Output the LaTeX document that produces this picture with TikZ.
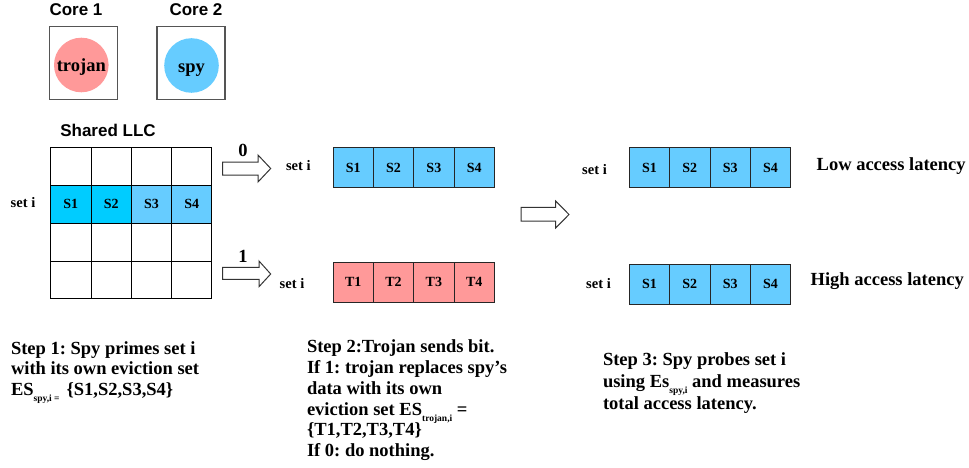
\documentclass[tikz,border=0pt]{standalone}
\usepackage{fontspec}
\setmainfont{Liberation Serif}
\newfontfamily\sansfam{Liberation Sans}
\definecolor{cyanA}{HTML}{00CCFF}
\definecolor{blueB}{HTML}{66CCFF}
\definecolor{redA}{HTML}{FF9999}
\definecolor{boxgray}{HTML}{555555}
\newcommand{\fsz}[1]{\fontsize{#1}{#1}\selectfont}
\newcommand{\lowsub}[1]{\raisebox{-6.5pt}{\fsz{9.5}#1}}
\frenchspacing
\begin{document}
\frenchspacing
\begin{tikzpicture}[x=1pt,y=-1pt,
  every node/.style={inner sep=0pt, outer sep=0pt},
  corebox/.style={draw=boxgray, line width=1.3pt, minimum width=68pt, minimum height=73pt, anchor=north west},
  proc/.style={circle, minimum size=54.6pt, text height=14.5pt, text depth=1.1pt, font=\fsz{18.5}\bfseries},
  hdr/.style={font=\sansfam\fsz{17}\bfseries, anchor=base},
  gcell/.style={draw, line width=1pt, minimum width=40.3pt, minimum height=37.9pt, anchor=north west, font=\fsz{14}\bfseries},
  rcell/.style={draw=black!85, line width=1pt, minimum width=40.35pt, minimum height=40pt, anchor=north west, font=\fsz{14}\bfseries},
  setlbl/.style={font=\fsz{14.5}\bfseries, anchor=base},
  bitlbl/.style={font=\fsz{18.5}\bfseries, anchor=base},
  lat/.style={font=\fsz{18.5}\bfseries, anchor=base west},
  steptxt/.style={font=\frenchspacing\fsz{18.5}\bfseries, anchor=base west},
  blockarr/.style={draw=black!80, line width=1pt, fill=white, line join=miter}
]
\useasboundingbox (0,0) rectangle (969,468);

% cores
\node[hdr] (c1lbl) at (76,16) {Core 1};
\node[hdr] (c2lbl) at (196,16) {Core 2};
\node[corebox] (core1) at (49.5,26.5) {};
\node[corebox] (core2) at (157,26.5) {};
\node[proc, fill=redA] (trojan) at (81.3,65) {trojan};
\node[proc, fill=blueB] (spy) at (191.5,65.5) {spy};

% shared LLC
\node[hdr] (llc) at (108,136.5) {Shared LLC};
\foreach \r in {0,2,3}{
  \foreach \c in {0,1,2,3}{
    \node[gcell] (g\r\c) at ({50.7+40.3*\c},{147.3+37.9*\r}) {};
  }
}
\node[gcell, fill=cyanA] (g10) at (50.7,185.2) {S1};
\node[gcell, fill=cyanA] (g11) at (91.0,185.2) {S2};
\node[gcell, fill=blueB] (g12) at (131.3,185.2) {S3};
\node[gcell, fill=blueB] (g13) at (171.6,185.2) {S4};
\node[setlbl] (setL) at (23,207) {set i};

% arrows step 2
\draw[blockarr] (222.5,162) -- (258,162) -- (258,155) -- (270.7,168.5) -- (258,182) -- (258,175) -- (222.5,175) -- cycle;
\node[bitlbl] (bit0) at (243,157) {0};
\draw[blockarr] (222.7,267.3) -- (259,267.3) -- (259,261) -- (270.7,274) -- (259,286.7) -- (259,279.3) -- (222.7,279.3) -- cycle;
\node[bitlbl] (bit1) at (243,262.5) {1};

\node[setlbl] (set0) at (298.3,170.7) {set i};
\node[rcell, fill=blueB] (m0a) at (333,147.7) {S1};
\node[rcell, fill=blueB] (m0b) at (373.35,147.7) {S2};
\node[rcell, fill=blueB] (m0c) at (413.7,147.7) {S3};
\node[rcell, fill=blueB] (m0d) at (454.05,147.7) {S4};

\node[setlbl] (set1) at (292,288.3) {set i};
\node[rcell, fill=redA] (m1a) at (333,262) {T1};
\node[rcell, fill=redA] (m1b) at (373.35,262) {T2};
\node[rcell, fill=redA] (m1c) at (413.7,262) {T3};
\node[rcell, fill=redA] (m1d) at (454.05,262) {T4};

% arrow step 3
\draw[blockarr] (521,207.3) -- (555.7,207.3) -- (555.7,201) -- (569,214.5) -- (555.7,228) -- (555.7,221) -- (521,221) -- cycle;

\node[setlbl] (setR0) at (594.5,174.3) {set i};
\node[rcell, fill=blueB] (r0a) at (629.3,147.7) {S1};
\node[rcell, fill=blueB] (r0b) at (669.65,147.7) {S2};
\node[rcell, fill=blueB] (r0c) at (710,147.7) {S3};
\node[rcell, fill=blueB] (r0d) at (750.35,147.7) {S4};
\node[lat] (low) at (816.7,170) {Low access latency};

\node[setlbl] (setR1) at (598.5,288.3) {set i};
\node[rcell, fill=blueB] (r1a) at (629.3,264) {S1};
\node[rcell, fill=blueB] (r1b) at (669.65,264) {S2};
\node[rcell, fill=blueB] (r1c) at (710,264) {S3};
\node[rcell, fill=blueB] (r1d) at (750.35,264) {S4};
\node[lat] (high) at (810.7,285) {High access latency};

% step texts
\node[steptxt] (s1a) at (11,354) {Step 1: Spy primes set i};
\node[steptxt] (s1b) at (11,374.5) {with its own eviction set};
\node[steptxt] (s1c) at (11,395) {ES\lowsub{spy,i =}\hspace{7pt}\{S1,S2,S3,S4\}};

\node[steptxt] (s2a) at (307,352.7) {Step 2:Trojan sends bit.};
\node[steptxt] (s2b) at (307,373.5) {If 1: trojan replaces spy’s};
\node[steptxt] (s2c) at (307,394.3) {data with its own};
\node[steptxt] (s2d) at (307,415) {eviction set ES\lowsub{trojan,i} =};
\node[steptxt] (s2e) at (307,435.8) {\{T1,T2,T3,T4\}};
\node[steptxt] (s2f) at (307,456.6) {If 0: do nothing.};

\node[steptxt] (s3a) at (603,365) {Step 3: Spy probes set i};
\node[steptxt] (s3b) at (603,387) {using Es\lowsub{spy,i} and measures};
\node[steptxt] (s3c) at (603,409) {total access latency.};
\end{tikzpicture}
\end{document}
